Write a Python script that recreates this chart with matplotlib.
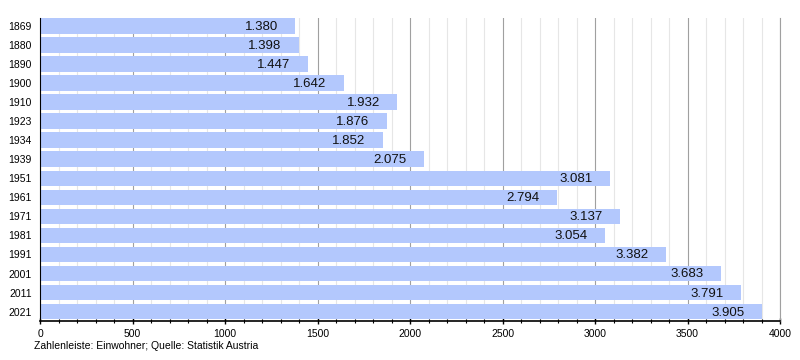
import matplotlib
matplotlib.use('Agg')
import matplotlib.pyplot as plt
from matplotlib.ticker import MultipleLocator

years = ['1869', '1880', '1890', '1900', '1910', '1923', '1934', '1939',
         '1951', '1961', '1971', '1981', '1991', '2001', '2011', '2021']
population = [1380, 1398, 1447, 1642, 1932, 1876, 1852, 2075,
              3081, 2794, 3137, 3054, 3382, 3683, 3791, 3905]

plt.rcParams['font.family'] = ['Liberation Sans', 'DejaVu Sans']

fig = plt.figure(figsize=(8, 3.6), dpi=100)
ax = fig.add_axes([0.05, 0.108, 0.925, 0.842])

pos = list(range(len(years)))
ax.barh(pos, population, height=0.82, color='#b3c8fd', zorder=2)

for p, v in zip(pos, population):
    label = f'{v:,}'.replace(',', '.')
    ax.text(v - 95, p + 0.05, label, ha='right', va='center', fontsize=9.5,
            color='#111111', zorder=3)

ax.set_xlim(0, 4000)
ax.set_ylim(len(years) - 0.5, -0.42)
ax.set_yticks(pos)
ax.set_yticklabels(years, fontsize=7.5)
ax.tick_params(axis='y', length=0, pad=6)

ax.xaxis.set_major_locator(MultipleLocator(500))
ax.xaxis.set_minor_locator(MultipleLocator(100))
ax.tick_params(axis='x', which='major', labelsize=7.5, length=5, width=1, direction='inout')
ax.tick_params(axis='x', which='minor', length=3, width=0.8, direction='inout')
ax.grid(axis='x', which='major', color='#a0a0a0', linewidth=0.8, zorder=0)
ax.grid(axis='x', which='minor', color='#e6e6e6', linewidth=0.8, zorder=0)
ax.set_axisbelow(True)

ax.spines['top'].set_visible(False)
ax.spines['right'].set_color('#a0a0a0')
ax.spines['right'].set_linewidth(0.8)
ax.spines['left'].set_color('black')
ax.spines['bottom'].set_color('black')
ax.spines['bottom'].set_linewidth(1.2)

fig.text(0.043, 0.03, 'Zahlenleiste: Einwohner; Quelle: Statistik Austria', fontsize=7.5)

fig.savefig('out.png', dpi=100)
